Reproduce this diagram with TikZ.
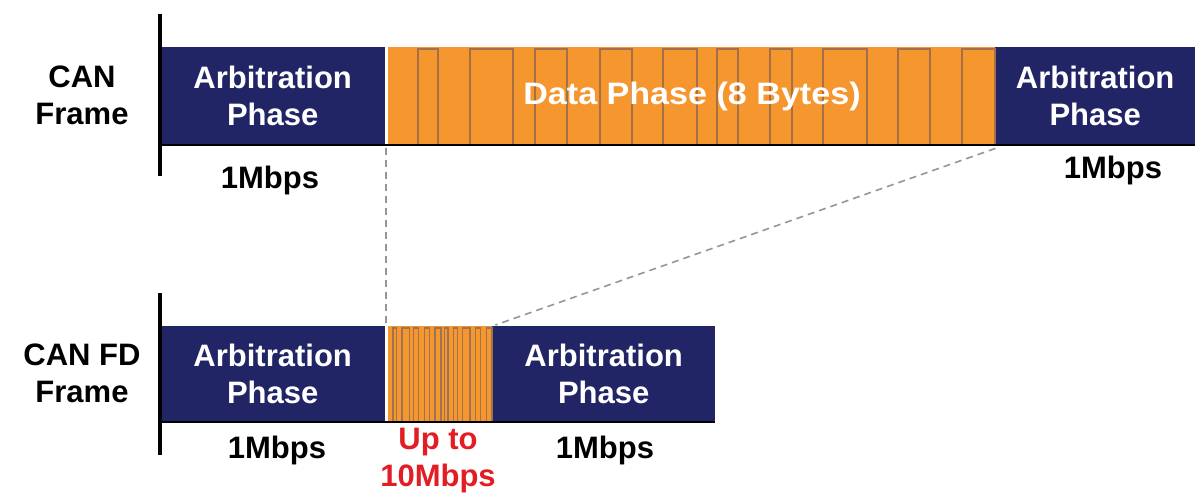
\documentclass[tikz,border=0pt]{standalone}
\usepackage{fontspec}
\setmainfont{Liberation Sans}
\definecolor{navy}{RGB}{33,37,102}
\definecolor{org}{RGB}{246,150,46}
\definecolor{bitline}{RGB}{165,112,70}
\definecolor{redtxt}{RGB}{226,30,36}
\definecolor{dashgrey}{RGB}{150,150,150}
\begin{document}
\begin{tikzpicture}[x=1pt,y=-1pt,
  lbl/.style={font=\bfseries\fontsize{31}{37}\selectfont, align=center, inner sep=0pt},
  navybox/.style={fill=navy, draw=none, anchor=north west, inner sep=0pt, text=white,
     font=\bfseries\fontsize{31}{37}\selectfont, align=center},
  orgbox/.style={fill=org, draw=none, anchor=north west, inner sep=0pt, text=white,
     font=\bfseries\fontsize{31}{37}\selectfont, align=center},
  axisline/.style={line width=3.2pt, black},
  baseline/.style={line width=2.2pt, black},
  bits/.style={line width=1.1pt, bitline},
  zoomline/.style={dashgrey, line width=1.6pt, dash pattern=on 7pt off 5pt}
]
\useasboundingbox (0,0) rectangle (1195,495);
% ---------------- CAN frame ----------------
\node[navybox, minimum width=225pt, minimum height=98pt] (a1) at (160,47) {Arbitration\\Phase};
\node[orgbox, minimum width=607pt, minimum height=98pt] (d1) at (388,47) {};
\node[navybox, minimum width=200pt, minimum height=98pt] (a2) at (995,47) {Arbitration\\Phase};
\foreach \a/\b in {418/438,470/513,535/567,600/632,663/697,717/738,770/792,823/867,898/930,962/995}{
  \draw[bits] (\a,144) -- (\a,49) -- (\b,49) -- (\b,144);
}
\node[text=white, font=\bfseries\fontsize{31}{37}\selectfont, inner sep=0pt] (dt) at (692,96) {\scalebox{1.1}[1]{Data Phase (8 Bytes)}};
\draw[baseline] (160,145) -- (1195,145);
\draw[axisline] (160,14) -- (160,176);
\node[lbl] (l1) at (82,95) {CAN\\Frame};
\node[lbl] (r1) at (270,180) {1Mbps};
\node[lbl] (r2) at (1113,170) {1Mbps};
% ---------------- CAN FD frame ----------------
\node[navybox, minimum width=225pt, minimum height=96pt] (b1) at (160,326) {Arbitration\\Phase};
\node[orgbox, minimum width=104pt, minimum height=96pt] (d2) at (388,326) {};
\node[navybox, minimum width=223pt, minimum height=96pt] (b2) at (492,326) {Arbitration\\Phase};
\foreach \a/\b in {418/438,470/513,535/567,600/632,663/697,717/738,770/792,823/867,898/930,962/995}{
  \draw[bits, line width=1.3pt, color=bitline!80!gray] ({388+0.1713*(\a-388)},421) -- ({388+0.1713*(\a-388)},328) -- ({388+0.1713*(\b-388)},328) -- ({388+0.1713*(\b-388)},421);
}
\draw[baseline] (160,422) -- (715,422);
\draw[axisline] (160,293) -- (160,455);
\node[lbl] (l2) at (82,373) {CAN FD\\Frame};
\node[lbl] (r3) at (277,450) {1Mbps};
\node[lbl, text=redtxt] (r4) at (438,461) {Up to\\10Mbps};
\node[lbl] (r5) at (605,450) {1Mbps};
% ---------------- zoom lines ----------------
\draw[zoomline] (d1.south west) ++(-2,3) -- ([xshift=-2pt]d2.north west);
\draw[zoomline] ([yshift=-3pt]d1.south east) -- ([xshift=3pt,yshift=1pt]d2.north east);
\end{tikzpicture}
\end{document}
